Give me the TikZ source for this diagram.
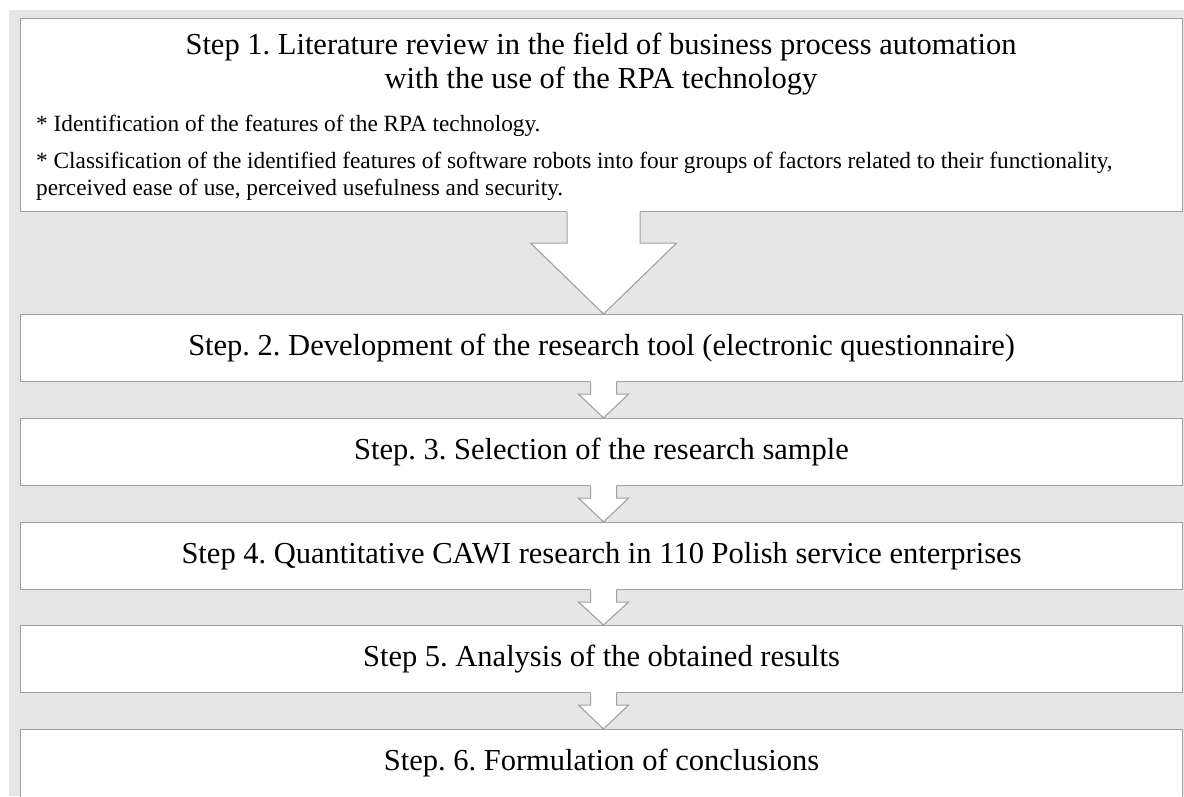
\documentclass[tikz,border=0pt]{standalone}
\usepackage{fontspec}
\setmainfont{Liberation Serif}
\usetikzlibrary{calc}
\definecolor{bggray}{HTML}{E6E6E6}
\definecolor{linegray}{HTML}{A0A0A0}
\tikzset{
  stepbox/.style={draw=linegray, fill=white, line width=1.1pt, minimum width=1162pt,
    minimum height=67pt, inner sep=0pt, anchor=north west, text height=20.5pt, text depth=6.5pt,
    font=\fontsize{30.5}{36}\selectfont\frenchspacing},
  headtext/.style={inner sep=0pt, anchor=base, font=\fontsize{30.5}{36}\selectfont\frenchspacing},
  smalltext/.style={inner sep=0pt, anchor=base west, font=\fontsize{23.3}{28}\selectfont\frenchspacing},
  arrowline/.style={draw=linegray, line width=1.1pt, line join=miter},
}
% #1 from node, #2 to node, #3 shaft half width, #4 head half width, #5 shaft length
\newcommand{\blockarrow}[5]{%
  \coordinate (ba-top) at ($(#1.south)+(2,0)$);
  \coordinate (ba-tip) at ($(#2.north)+(2,0)$);
  \fill[white] ($(ba-top)+(-#3,-1)$) -- ($(ba-top)+(-#3,#5)$) -- ($(ba-top)+(-#4,#5)$)
    -- (ba-tip) -- ($(ba-top)+(#4,#5)$) -- ($(ba-top)+(#3,#5)$) -- ($(ba-top)+(#3,-1)$) -- cycle;
  \draw[arrowline] ($(ba-top)+(-#3,0)$) -- ($(ba-top)+(-#3,#5)$) -- ($(ba-top)+(-#4,#5)$)
    -- (ba-tip) -- ($(ba-top)+(#4,#5)$) -- ($(ba-top)+(#3,#5)$) -- ($(ba-top)+(#3,0)$);
}
\begin{document}
\begin{tikzpicture}[x=1pt,y=-1pt]
\useasboundingbox (0,0) rectangle (1184,796);
\fill[bggray] (9,10) rectangle (1184,796);

\node[stepbox, minimum height=193pt, text height=0pt, text depth=0pt] (s1) at (20,18) {};
\node[headtext] (t1a) at (601,54) {Step 1. Literature review in the field of business process automation};
\node[headtext] (t1b) at (601,88) {with the use of the RPA technology};
\node[smalltext] (b1) at (36,131) {* Identification of the features of the RPA technology.};
\node[smalltext] (b2) at (36,168) {* Classification of the identified features of software robots into four groups of factors related to their functionality,};
\node[smalltext] (b3) at (36,195) {perceived ease of use, perceived usefulness and security.};

\node[stepbox] (s2) at (20,314) {Step. 2. Development of the research tool (electronic questionnaire)};
\node[stepbox] (s3) at (20,418) {Step. 3. Selection of the research sample};
\node[stepbox] (s4) at (20,522) {Step 4. Quantitative CAWI research in 110 Polish service enterprises};
\node[stepbox] (s5) at (20,625) {Step 5. Analysis of the obtained results};
\node[stepbox, minimum height=80pt, text depth=19.5pt] (s6) at (20,729) {Step. 6. Formulation of conclusions};

\blockarrow{s1}{s2}{36.5}{73}{31}
\blockarrow{s2}{s3}{13}{25}{12}
\blockarrow{s3}{s4}{13}{25}{12}
\blockarrow{s4}{s5}{13}{25}{12}
\blockarrow{s5}{s6}{13}{25}{12}
\end{tikzpicture}
\end{document}
